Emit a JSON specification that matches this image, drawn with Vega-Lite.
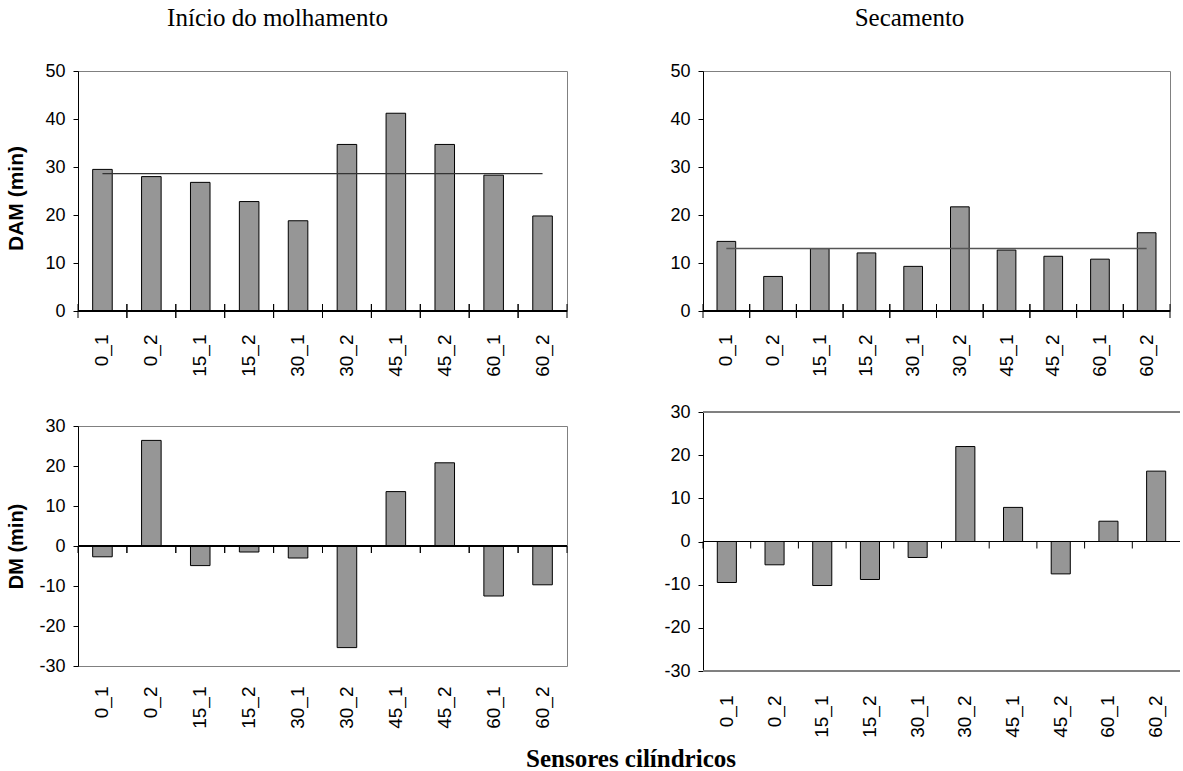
{
  "$schema": "https://vega.github.io/schema/vega-lite/v6.json",
  "padding": {"left": 5, "top": 5, "right": 0, "bottom": 0},
  "background": "white",
  "datasets": {
    "dam_mol": [
      {"sensor": "0_1", "valor": 29.5}, {"sensor": "0_2", "valor": 28.0},
      {"sensor": "15_1", "valor": 26.8}, {"sensor": "15_2", "valor": 22.8},
      {"sensor": "30_1", "valor": 18.8}, {"sensor": "30_2", "valor": 34.7},
      {"sensor": "45_1", "valor": 41.2}, {"sensor": "45_2", "valor": 34.7},
      {"sensor": "60_1", "valor": 28.3}, {"sensor": "60_2", "valor": 19.8}
    ],
    "dam_sec": [
      {"sensor": "0_1", "valor": 14.5}, {"sensor": "0_2", "valor": 7.2},
      {"sensor": "15_1", "valor": 13.0}, {"sensor": "15_2", "valor": 12.1},
      {"sensor": "30_1", "valor": 9.3}, {"sensor": "30_2", "valor": 21.7},
      {"sensor": "45_1", "valor": 12.7}, {"sensor": "45_2", "valor": 11.4},
      {"sensor": "60_1", "valor": 10.8}, {"sensor": "60_2", "valor": 16.3}
    ],
    "dm_mol": [
      {"sensor": "0_1", "valor": -2.7}, {"sensor": "0_2", "valor": 26.4},
      {"sensor": "15_1", "valor": -4.9}, {"sensor": "15_2", "valor": -1.5},
      {"sensor": "30_1", "valor": -3.0}, {"sensor": "30_2", "valor": -25.4},
      {"sensor": "45_1", "valor": 13.6}, {"sensor": "45_2", "valor": 20.8},
      {"sensor": "60_1", "valor": -12.5}, {"sensor": "60_2", "valor": -9.7}
    ],
    "dm_sec": [
      {"sensor": "0_1", "valor": -9.5}, {"sensor": "0_2", "valor": -5.4},
      {"sensor": "15_1", "valor": -10.2}, {"sensor": "15_2", "valor": -8.8},
      {"sensor": "30_1", "valor": -3.7}, {"sensor": "30_2", "valor": 22.0},
      {"sensor": "45_1", "valor": 7.9}, {"sensor": "45_2", "valor": -7.5},
      {"sensor": "60_1", "valor": 4.7}, {"sensor": "60_2", "valor": 16.3}
    ],
    "medias": [
      {"painel": "dam_mol", "de": "0_1", "ate": "60_2", "media": 28.6},
      {"painel": "dam_sec", "de": "0_1", "ate": "60_2", "media": 13.0}
    ]
  },
  "title": {
    "text": "Sensores cilíndricos",
    "orient": "bottom",
    "anchor": "middle",
    "font": "Liberation Serif",
    "fontWeight": "bold",
    "fontSize": 25,
    "color": "#000",
    "offset": 10,
    "dx": 38
  },
  "spacing": 95,
  "hconcat": [
    {
      "spacing": 115,
      "bounds": "flush",
      "vconcat": [
        {
          "width": 489,
          "height": 240,
          "title": {"text": "Início do molhamento", "frame": "group", "dx": -45, "offset": 31},
          "data": {"name": "dam_mol"},
          "layer": [
            {
              "mark": {"type": "bar", "width": {"band": 0.4}, "fill": "#969696", "stroke": "#000", "strokeWidth": 1},
              "encoding": {
                "x": {"field": "sensor", "type": "nominal", "sort": null, "scale": {"paddingInner": 0, "paddingOuter": 0},
                      "axis": {"title": null, "labelAngle": -90, "domain": false, "ticks": false, "labelPadding": 23}},
                "y": {"field": "valor", "type": "quantitative", "scale": {"domain": [0, 50]},
                      "axis": {"title": "DAM (min)", "titlePadding": 18, "titleFontSize": 21, "titleY": 127, "tickCount": 10, "labelOverlap": false, "values": [0, 10, 20, 30, 40, 50]}}
              }
            },
            {"mark": {"type": "rule", "color": "#000"}, "encoding": {"y": {"datum": 0}}},
            {
              "mark": {"type": "rule", "color": "#000", "yOffset": -7, "y2Offset": 7},
              "encoding": {"x": {"field": "sensor", "type": "nominal", "sort": null, "bandPosition": 0}, "y": {"datum": 0}, "y2": {"datum": 0}}
            },
            {
              "mark": {"type": "rule", "color": "#000", "yOffset": -7, "y2Offset": 7},
              "encoding": {"x": {"field": "sensor", "type": "nominal", "sort": null, "bandPosition": 1}, "y": {"datum": 0}, "y2": {"datum": 0}}
            },
            {
              "data": {"name": "medias"},
              "transform": [{"filter": "datum.painel == 'dam_mol'"}],
              "mark": {"type": "rule", "color": "#333", "strokeWidth": 1.2},
              "encoding": {"x": {"field": "de", "type": "nominal", "sort": null}, "x2": {"field": "ate"}, "y": {"field": "media", "type": "quantitative"}}
            }
          ]
        },
        {
          "width": 489,
          "height": 240,
          "data": {"name": "dm_mol"},
          "layer": [
            {
              "mark": {"type": "bar", "width": {"band": 0.4}, "fill": "#969696", "stroke": "#000", "strokeWidth": 1},
              "encoding": {
                "x": {"field": "sensor", "type": "nominal", "sort": null, "scale": {"paddingInner": 0, "paddingOuter": 0},
                      "axis": {"title": null, "labelAngle": -90, "domain": false, "ticks": false, "labelPadding": 20}},
                "y": {"field": "valor", "type": "quantitative", "scale": {"domain": [-30, 30]},
                      "axis": {"title": "DM (min)", "titlePadding": 12, "tickCount": 10, "labelOverlap": false, "values": [-30, -20, -10, 0, 10, 20, 30],
                               "labelExpr": "datum.value < 0 ? '-' + (-datum.value) : '' + datum.value"}}
              }
            },
            {"mark": {"type": "rule", "color": "#000"}, "encoding": {"y": {"datum": 0}}},
            {
              "mark": {"type": "rule", "color": "#000", "y2Offset": 7},
              "encoding": {"x": {"field": "sensor", "type": "nominal", "sort": null, "bandPosition": 0}, "y": {"datum": 0}, "y2": {"datum": 0}}
            },
            {
              "mark": {"type": "rule", "color": "#000", "y2Offset": 7},
              "encoding": {"x": {"field": "sensor", "type": "nominal", "sort": null, "bandPosition": 1}, "y": {"datum": 0}, "y2": {"datum": 0}}
            }
          ]
        }
      ]
    },
    {
      "spacing": 101,
      "bounds": "flush",
      "vconcat": [
        {
          "width": 467,
          "height": 240,
          "title": {"text": "Secamento", "frame": "group", "dx": -27, "offset": 31},
          "data": {"name": "dam_sec"},
          "layer": [
            {
              "mark": {"type": "bar", "width": {"band": 0.4}, "fill": "#969696", "stroke": "#000", "strokeWidth": 1},
              "encoding": {
                "x": {"field": "sensor", "type": "nominal", "sort": null, "scale": {"paddingInner": 0, "paddingOuter": 0},
                      "axis": {"title": null, "labelAngle": -90, "domain": false, "ticks": false, "labelPadding": 23}},
                "y": {"field": "valor", "type": "quantitative", "scale": {"domain": [0, 50]},
                      "axis": {"title": null, "tickCount": 10, "labelOverlap": false, "values": [0, 10, 20, 30, 40, 50]}}
              }
            },
            {"mark": {"type": "rule", "color": "#000"}, "encoding": {"y": {"datum": 0}}},
            {
              "mark": {"type": "rule", "color": "#000", "yOffset": -7, "y2Offset": 7},
              "encoding": {"x": {"field": "sensor", "type": "nominal", "sort": null, "bandPosition": 0}, "y": {"datum": 0}, "y2": {"datum": 0}}
            },
            {
              "mark": {"type": "rule", "color": "#000", "yOffset": -7, "y2Offset": 7},
              "encoding": {"x": {"field": "sensor", "type": "nominal", "sort": null, "bandPosition": 1}, "y": {"datum": 0}, "y2": {"datum": 0}}
            },
            {
              "data": {"name": "medias"},
              "transform": [{"filter": "datum.painel == 'dam_sec'"}],
              "mark": {"type": "rule", "color": "#555", "strokeWidth": 1.5},
              "encoding": {"x": {"field": "de", "type": "nominal", "sort": null}, "x2": {"field": "ate"}, "y": {"field": "media", "type": "quantitative"}}
            }
          ]
        },
        {
          "width": 477,
          "height": 259,
          "view": {"stroke": null},
          "data": {"name": "dm_sec"},
          "layer": [
            {
              "mark": {"type": "bar", "width": {"band": 0.4}, "fill": "#969696", "stroke": "#000", "strokeWidth": 1},
              "encoding": {
                "x": {"field": "sensor", "type": "nominal", "sort": null, "scale": {"paddingInner": 0, "paddingOuter": 0},
                      "axis": {"title": null, "labelAngle": -90, "domain": false, "ticks": false, "labelPadding": 24}},
                "y": {"field": "valor", "type": "quantitative", "scale": {"domain": [-30, 30]},
                      "axis": {"title": null, "tickCount": 10, "labelOverlap": false, "values": [-30, -20, -10, 0, 10, 20, 30],
                               "labelExpr": "datum.value < 0 ? '-' + (-datum.value) : '' + datum.value"}}
              }
            },
            {"mark": {"type": "rule", "color": "#808080"}, "encoding": {"y": {"datum": 30}}},
            {"mark": {"type": "rule", "color": "#808080"}, "encoding": {"y": {"datum": -30}}},
            {"mark": {"type": "rule", "color": "#000"}, "encoding": {"y": {"datum": 0}}},
            {
              "mark": {"type": "rule", "color": "#000", "y2Offset": 7},
              "encoding": {"x": {"field": "sensor", "type": "nominal", "sort": null, "bandPosition": 0}, "y": {"datum": 0}, "y2": {"datum": 0}}
            }
          ]
        }
      ]
    }
  ],
  "config": {
    "font": "Liberation Sans",
    "view": {"stroke": "#808080", "strokeWidth": 1},
    "axis": {
      "labelFont": "Liberation Sans",
      "labelFontSize": 19,
      "labelColor": "#000",
      "titleFont": "Liberation Sans",
      "titleFontSize": 20,
      "titleFontWeight": "bold",
      "titleColor": "#000",
      "domainColor": "#000",
      "tickColor": "#000",
      "tickSize": 5,
      "grid": false
    },
    "axisY": {"labelPadding": 8, "labelFontSize": 18},
    "title": {
      "font": "Liberation Serif",
      "fontSize": 25,
      "fontWeight": "normal",
      "color": "#000"
    }
  }
}
